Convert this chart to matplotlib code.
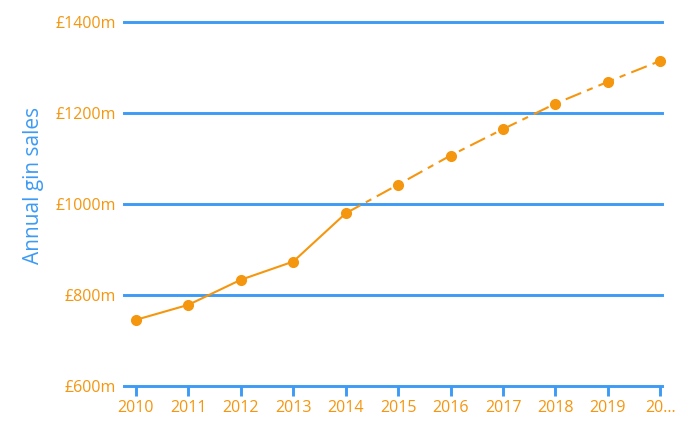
import numpy as np
import matplotlib.pyplot as plt

years = [2010, 2011, 2012, 2013, 2014, 2015, 2016, 2017, 2018, 2019, 2020]
sales = [745, 778, 833, 873, 979, 1042, 1106, 1164, 1220, 1268, 1314]
year_labels = ['2010', '2011', '2012', '2013', '2014', '2015', '2016',
               '2017', '2018', '2019', '20...']
y_ticks = [600, 800, 1000, 1200, 1400]
y_labels = ['£600m', '£800m', '£1000m', '£1200m', '£1400m']

orange = '#F5960F'
blue = '#3D9BF5'

plt.rcParams['font.family'] = ['Open Sans', 'DejaVu Sans']

fig = plt.figure(figsize=(6.96, 4.34), dpi=100)
ax = fig.add_axes([0.178, 0.111, 0.773, 0.839])

# actual (solid) and projected (dashed) parts
ax.plot(years[:5], sales[:5], color=orange, lw=1.5, clip_on=False)
ax.plot(years[4:], sales[4:], color=orange, lw=1.5, dashes=(8, 3, 3, 3),
        clip_on=False)
ax.plot(years, sales, 'o', color=orange, ms=7, clip_on=False, zorder=4)

ax.set_xlim(2009.77, 2020.03)
ax.set_ylim(600, 1400)
ax.set_yticks(y_ticks)
ax.set_yticklabels(y_labels)
ax.set_xticks(years)
ax.set_xticklabels(year_labels)

for v in y_ticks[1:]:
    ax.axhline(v, color=blue, lw=2.1, zorder=1, clip_on=False)

for s in ['top', 'right', 'left']:
    ax.spines[s].set_visible(False)
ax.spines['bottom'].set_color(blue)
ax.spines['bottom'].set_linewidth(2.1)

ax.tick_params(axis='y', length=0, pad=6, labelcolor=orange, labelsize=11.5)
ax.tick_params(axis='x', length=7, width=2.1, color=blue, pad=3,
               labelcolor=orange, labelsize=11.5)

ax.set_ylabel('Annual gin sales', color=blue, fontsize=15)
ax.yaxis.set_label_coords(-0.148, 0.551)

fig.savefig('out.png', dpi=100)
